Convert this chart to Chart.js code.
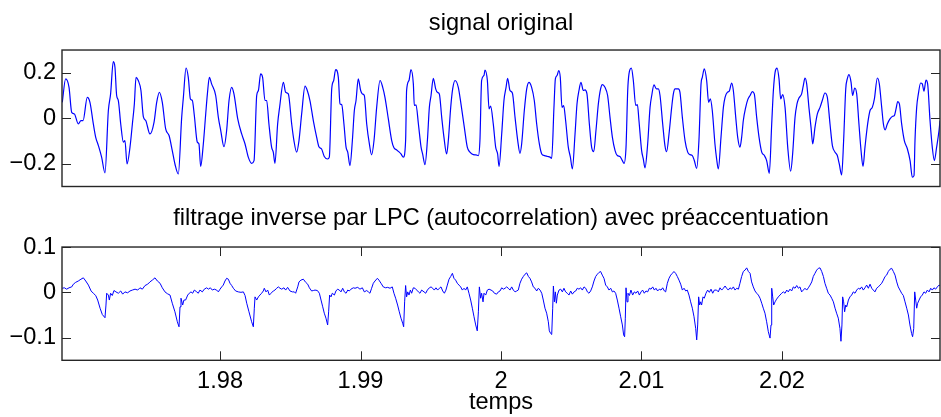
<!DOCTYPE html>
<html>
<head>
<meta charset="utf-8">
<script src="https://cdn.jsdelivr.net/npm/chart.js@4.4.0/dist/chart.umd.min.js"></script>
<style>
  html, body { margin: 0; padding: 0; background: #ffffff; }
  #wrap { position: relative; width: 941px; height: 417px; overflow: hidden; }
  canvas { position: absolute; left: 0; }
</style>
</head>
<body>
<div id="wrap">
  <canvas id="topChart" width="941" height="200" style="top:0px"></canvas>
  <canvas id="botChart" width="941" height="217" style="top:200px"></canvas>
</div>
<script>

// ---------------- Axis ranges and labels ----------------------------------
const X_MIN = 1.96875 ;
const X_MAX = 2.03125 ;
const TOP_Y_MIN = -0.3 ;
const TOP_Y_MAX =  0.3 ;
const BOT_Y_MIN = -0.15 ;
const BOT_Y_MAX =  0.1 ;

const xTickValues    = [ 1.98, 1.99, 2, 2.01, 2.02 ] ;
const xTickLabels    = [ '1.98', '1.99', '2', '2.01', '2.02' ] ;
const topYTickValues = [ -0.2, 0, 0.2 ] ;
const topYTickLabels = [ '\u22120.2', '0', '0.2' ] ;
const botYTickValues = [ -0.1, 0, 0.1 ] ;
const botYTickLabels = [ '\u22120.1', '0', '0.1' ] ;

const topTitle = 'signal original' ;
const botTitle = 'filtrage inverse par LPC (autocorrelation) avec préaccentuation' ;
const xTitle   = 'temps' ;

// ---------------- Signals, [ time (s), amplitude ] ------------------------
const originalSignal = [
  [1.96877, 0.070], [1.96901, 0.173], [1.96925, 0.136], [1.96944, 0.026], [1.96963, 0.019],
  [1.96991,-0.025], [1.97010,-0.010], [1.97025,-0.010], [1.97055, 0.092], [1.97074, 0.070],
  [1.97098,-0.025], [1.97115,-0.084], [1.97134,-0.120], [1.97157,-0.171], [1.97181,-0.240],
  [1.97205, 0.034], [1.97221, 0.107], [1.97240, 0.249], [1.97252, 0.224], [1.97264, 0.100],
  [1.97276, 0.078], [1.97293,-0.025], [1.97312,-0.105], [1.97323,-0.098], [1.97338,-0.201],
  [1.97359,-0.127], [1.97376,-0.025], [1.97390, 0.063], [1.97402, 0.180], [1.97418, 0.166],
  [1.97437, 0.122], [1.97454, 0.007], [1.97471,-0.010], [1.97501,-0.069], [1.97530,-0.018],
  [1.97549, 0.070], [1.97568, 0.114], [1.97589, 0.070], [1.97613,-0.047], [1.97637,-0.076],
  [1.97660,-0.142], [1.97679,-0.201], [1.97703,-0.245], [1.97727, 0.004], [1.97739, 0.092],
  [1.97758, 0.221], [1.97774, 0.180], [1.97789, 0.085], [1.97803, 0.078], [1.97817, 0.012],
  [1.97838,-0.105], [1.97850,-0.113], [1.97862,-0.212], [1.97881,-0.113], [1.97898, 0.019],
  [1.97910, 0.107], [1.97924, 0.180], [1.97940, 0.151], [1.97969, 0.100], [1.97988, 0.004],
  [1.98005,-0.054], [1.98028,-0.125], [1.98047,-0.054], [1.98064, 0.078], [1.98083, 0.136],
  [1.98099, 0.107], [1.98126,-0.003], [1.98154,-0.069], [1.98178,-0.113], [1.98201,-0.171],
  [1.98225,-0.198], [1.98242,-0.186], [1.98261, 0.100], [1.98273, 0.122], [1.98289, 0.195],
  [1.98303, 0.180], [1.98320, 0.078], [1.98332, 0.078], [1.98348,-0.025], [1.98367,-0.127],
  [1.98379,-0.149], [1.98391,-0.198], [1.98410,-0.025], [1.98424, 0.048], [1.98451, 0.158],
  [1.98467, 0.114], [1.98486, 0.107], [1.98510,-0.025], [1.98526,-0.098], [1.98545,-0.149],
  [1.98562,-0.098], [1.98581, 0.019], [1.98605, 0.141], [1.98621, 0.122], [1.98640, 0.078],
  [1.98664,-0.010], [1.98688,-0.084], [1.98704,-0.125], [1.98723,-0.135], [1.98742,-0.168],
  [1.98766,-0.179], [1.98778,-0.171], [1.98795, 0.129], [1.98809, 0.166], [1.98823, 0.214],
  [1.98842, 0.180], [1.98854, 0.063], [1.98866, 0.060], [1.98882,-0.025], [1.98897,-0.127],
  [1.98909,-0.149], [1.98925,-0.208], [1.98942,-0.098], [1.98956, 0.034], [1.98968, 0.078],
  [1.98984, 0.173], [1.99001, 0.122], [1.99013, 0.107], [1.99027, 0.100], [1.99044,-0.025],
  [1.99063,-0.113], [1.99079,-0.161], [1.99096,-0.098], [1.99115, 0.048], [1.99139, 0.166],
  [1.99158, 0.136], [1.99174, 0.092], [1.99198,-0.003], [1.99222,-0.098], [1.99238,-0.130],
  [1.99257,-0.139], [1.99276,-0.149], [1.99288,-0.157], [1.99305,-0.171], [1.99321,-0.098],
  [1.99328, 0.122], [1.99345, 0.166], [1.99359, 0.214], [1.99376, 0.151], [1.99383, 0.056],
  [1.99395, 0.059], [1.99412,-0.025], [1.99431,-0.127], [1.99442,-0.157], [1.99459,-0.204],
  [1.99476,-0.098], [1.99490, 0.048], [1.99502, 0.100], [1.99518, 0.176], [1.99535, 0.129],
  [1.99547, 0.114], [1.99561, 0.107], [1.99578, 0.004], [1.99594,-0.084], [1.99613,-0.157],
  [1.99625,-0.098], [1.99642, 0.048], [1.99656, 0.129], [1.99673, 0.166], [1.99696, 0.136],
  [1.99715, 0.063], [1.99739,-0.040], [1.99760,-0.127], [1.99779,-0.149], [1.99803,-0.160],
  [1.99822,-0.161], [1.99839,-0.164], [1.99850,-0.098], [1.99862, 0.166], [1.99879, 0.188],
  [1.99886, 0.212], [1.99903, 0.166], [1.99915, 0.041], [1.99926, 0.053], [1.99945,-0.025],
  [1.99962,-0.127], [1.99976,-0.157], [1.99986,-0.212], [2.00005,-0.069], [2.00021, 0.078],
  [2.00036, 0.136], [2.00047, 0.176], [2.00064, 0.122], [2.00081, 0.111], [2.00100, 0.004],
  [2.00119,-0.098], [2.00135,-0.154], [2.00147,-0.113], [2.00166, 0.034], [2.00183, 0.129],
  [2.00199, 0.158], [2.00218, 0.136], [2.00237, 0.078], [2.00254,-0.025], [2.00273,-0.113],
  [2.00290,-0.157], [2.00309,-0.164], [2.00332,-0.168], [2.00349,-0.171], [2.00361,-0.176],
  [2.00377, 0.048], [2.00387, 0.173], [2.00399, 0.188], [2.00411, 0.210], [2.00422, 0.180],
  [2.00434, 0.048], [2.00446, 0.056], [2.00460,-0.010], [2.00479,-0.127], [2.00494,-0.171],
  [2.00508,-0.223], [2.00527,-0.069], [2.00541, 0.063], [2.00555, 0.122], [2.00569, 0.158],
  [2.00586, 0.122], [2.00598, 0.125], [2.00612, 0.107], [2.00629,-0.025], [2.00645,-0.127],
  [2.00660,-0.147], [2.00676,-0.054], [2.00693, 0.063], [2.00709, 0.129], [2.00721, 0.148],
  [2.00740, 0.136], [2.00759, 0.100], [2.00776, 0.004], [2.00793,-0.084], [2.00812,-0.142],
  [2.00828,-0.164], [2.00847,-0.168], [2.00864,-0.186], [2.00876,-0.198], [2.00890,-0.127],
  [2.00902, 0.122], [2.00911, 0.195], [2.00928, 0.220], [2.00942, 0.166], [2.00959, 0.056],
  [2.00971, 0.060], [2.00982,-0.010], [2.01001,-0.142], [2.01013,-0.179], [2.01025,-0.218],
  [2.01044,-0.113], [2.01061, 0.048], [2.01073, 0.100], [2.01089, 0.147], [2.01106, 0.129],
  [2.01120, 0.129], [2.01132, 0.100], [2.01151,-0.025], [2.01167,-0.120], [2.01179,-0.147],
  [2.01196,-0.069], [2.01215, 0.048], [2.01227, 0.107], [2.01239, 0.129], [2.01262, 0.129],
  [2.01274, 0.114], [2.01291, 0.004], [2.01310,-0.098], [2.01329,-0.149], [2.01345,-0.160],
  [2.01362,-0.164], [2.01376,-0.186], [2.01393,-0.220], [2.01409,-0.098], [2.01424, 0.151],
  [2.01433, 0.180], [2.01447, 0.217], [2.01464, 0.166], [2.01478, 0.070], [2.01490, 0.085],
  [2.01504, 0.034], [2.01523,-0.113], [2.01535,-0.179], [2.01547,-0.223], [2.01566,-0.084],
  [2.01583, 0.048], [2.01595, 0.092], [2.01611, 0.114], [2.01625, 0.119], [2.01642, 0.155],
  [2.01654, 0.122], [2.01671, 0.004], [2.01685,-0.084], [2.01701,-0.127], [2.01713,-0.084],
  [2.01725,-0.010], [2.01742, 0.048], [2.01756, 0.081], [2.01773, 0.100], [2.01789, 0.117],
  [2.01803, 0.107], [2.01820, 0.004], [2.01837,-0.084], [2.01856,-0.149], [2.01875,-0.164],
  [2.01891,-0.186], [2.01910,-0.242], [2.01927,-0.025], [2.01939, 0.122], [2.01951, 0.202],
  [2.01965, 0.220], [2.01979, 0.173], [2.01991, 0.085], [2.02005, 0.104], [2.02022, 0.048],
  [2.02041,-0.127], [2.02062,-0.233], [2.02076,-0.157], [2.02093, 0.004], [2.02107, 0.063],
  [2.02121, 0.089], [2.02140, 0.107], [2.02152, 0.144], [2.02164, 0.177], [2.02176, 0.151],
  [2.02193, 0.041], [2.02207,-0.040], [2.02219,-0.113], [2.02235,-0.040], [2.02252, 0.019],
  [2.02271, 0.048], [2.02287, 0.078], [2.02306, 0.111], [2.02323, 0.092], [2.02342,-0.025],
  [2.02359,-0.120], [2.02378,-0.149], [2.02394,-0.164], [2.02408,-0.201], [2.02425,-0.249],
  [2.02439,-0.098], [2.02454, 0.129], [2.02465, 0.173], [2.02477, 0.192], [2.02492, 0.158],
  [2.02503, 0.100], [2.02518, 0.133], [2.02532, 0.107], [2.02548,-0.025], [2.02563,-0.142],
  [2.02577,-0.212], [2.02591,-0.127], [2.02610,-0.025], [2.02627, 0.034], [2.02643, 0.048],
  [2.02658, 0.085], [2.02679, 0.177], [2.02693, 0.151], [2.02710, 0.048], [2.02722,-0.025],
  [2.02734,-0.051], [2.02750,-0.025], [2.02769,-0.003], [2.02788, 0.009], [2.02800, 0.012],
  [2.02812, 0.041], [2.02824, 0.073], [2.02836, 0.063], [2.02852,-0.025], [2.02871,-0.098],
  [2.02893,-0.135], [2.02912,-0.186], [2.02928,-0.259], [2.02940,-0.252], [2.02947,-0.098],
  [2.02959, 0.048], [2.02971, 0.107], [2.02987, 0.155], [2.02999, 0.151], [2.03011, 0.119],
  [2.03025, 0.168], [2.03037, 0.151], [2.03054,-0.010], [2.03070,-0.127], [2.03085,-0.186],
  [2.03101,-0.127], [2.03118,-0.054], [2.03125,-0.010]
] ;

const residualSignal = [
  [1.96877, 0.009], [1.96892, 0.010], [1.96908, 0.007], [1.96925, 0.010], [1.96944, 0.012],
  [1.96956, 0.018], [1.96972, 0.022], [1.96991, 0.025], [1.97010, 0.029], [1.97027, 0.032],
  [1.97044, 0.025], [1.97063, 0.016], [1.97082, 0.003], [1.97098,-0.002], [1.97115,-0.007],
  [1.97129,-0.017], [1.97146,-0.035], [1.97162,-0.049], [1.97181,-0.056], [1.97188,-0.028],
  [1.97193,-0.002], [1.97205,-0.006], [1.97212,-0.017], [1.97221,-0.002], [1.97233,-0.007],
  [1.97245, 0.004], [1.97259, 0.001], [1.97276,-0.002], [1.97293, 0.003], [1.97307,-0.004],
  [1.97323, 0.001], [1.97342,-0.001], [1.97359, 0.003], [1.97376, 0.005], [1.97395, 0.007],
  [1.97414, 0.005], [1.97430, 0.010], [1.97447, 0.007], [1.97466, 0.015], [1.97485, 0.018],
  [1.97501, 0.023], [1.97518, 0.027], [1.97537, 0.032], [1.97554, 0.025], [1.97573, 0.020],
  [1.97589, 0.010], [1.97608, 0.001], [1.97625,-0.003], [1.97644,-0.006], [1.97660,-0.024],
  [1.97679,-0.043], [1.97696,-0.065], [1.97708,-0.076], [1.97715,-0.032], [1.97722,-0.013],
  [1.97734,-0.028], [1.97743,-0.017], [1.97755,-0.017], [1.97770,-0.006], [1.97781,-0.002],
  [1.97793, 0.001], [1.97805,-0.002], [1.97817, 0.005], [1.97834, 0.001], [1.97845,-0.002],
  [1.97857, 0.005], [1.97874, 0.001], [1.97888, 0.007], [1.97905, 0.010], [1.97917, 0.007],
  [1.97931, 0.010], [1.97945, 0.005], [1.97959, 0.007], [1.97976, 0.005], [1.97988, 0.001],
  [1.98000, 0.007], [1.98012, 0.012], [1.98023, 0.016], [1.98035, 0.025], [1.98047, 0.031],
  [1.98059, 0.029], [1.98071, 0.020], [1.98083, 0.015], [1.98095, 0.009], [1.98111, 0.003],
  [1.98130, 0.001], [1.98149, 0.000], [1.98166, 0.001], [1.98178,-0.007], [1.98190,-0.024],
  [1.98206,-0.043], [1.98225,-0.065], [1.98237,-0.076], [1.98244,-0.035], [1.98249,-0.010],
  [1.98261,-0.017], [1.98273,-0.010], [1.98284,-0.006], [1.98296,-0.002], [1.98308, 0.003],
  [1.98315, 0.009], [1.98327, 0.001], [1.98339, 0.005], [1.98351,-0.006], [1.98363,-0.002],
  [1.98379, 0.003], [1.98391, 0.005], [1.98403, 0.009], [1.98415, 0.012], [1.98427, 0.009],
  [1.98439, 0.007], [1.98455, 0.010], [1.98467, 0.005], [1.98481, 0.011], [1.98498, 0.003],
  [1.98515, 0.001], [1.98529, 0.001], [1.98538,-0.002], [1.98553, 0.012], [1.98562, 0.023],
  [1.98576, 0.027], [1.98593, 0.029], [1.98610, 0.022], [1.98624, 0.018], [1.98636, 0.010],
  [1.98652, 0.003], [1.98664, 0.004], [1.98676, 0.005], [1.98693, 0.004], [1.98707,-0.002],
  [1.98719,-0.017], [1.98731,-0.032], [1.98742,-0.046], [1.98754,-0.057], [1.98766,-0.072],
  [1.98773,-0.043], [1.98780,-0.006], [1.98790,-0.010], [1.98799,-0.002], [1.98814,-0.006],
  [1.98825, 0.003], [1.98837, 0.007], [1.98849, 0.005], [1.98861, 0.001], [1.98873, 0.009],
  [1.98885, 0.001], [1.98897,-0.002], [1.98909, 0.005], [1.98920, 0.003], [1.98932, 0.007],
  [1.98949, 0.010], [1.98961, 0.009], [1.98980, 0.011], [1.98996, 0.007], [1.99013, 0.010],
  [1.99027, 0.001], [1.99044, 0.004], [1.99056, 0.001], [1.99067,-0.002], [1.99079, 0.009],
  [1.99091, 0.020], [1.99103, 0.025], [1.99120, 0.031], [1.99131, 0.027], [1.99146, 0.020],
  [1.99162, 0.012], [1.99179, 0.010], [1.99193, 0.011], [1.99210, 0.009], [1.99226, 0.012],
  [1.99238,-0.002], [1.99250,-0.013], [1.99264,-0.028], [1.99276,-0.043], [1.99288,-0.057],
  [1.99300,-0.068], [1.99307,-0.076], [1.99314,-0.021], [1.99321, 0.015], [1.99328,-0.010],
  [1.99336, 0.001], [1.99345,-0.006], [1.99355, 0.005], [1.99364,-0.002], [1.99376, 0.010],
  [1.99388, 0.009], [1.99400, 0.005], [1.99412, 0.001], [1.99423,-0.002], [1.99435, 0.005],
  [1.99452, 0.001], [1.99464,-0.002], [1.99476, 0.005], [1.99490, 0.010], [1.99502, 0.012],
  [1.99514, 0.009], [1.99525, 0.005], [1.99537, 0.010], [1.99549, 0.005], [1.99561, 0.009],
  [1.99573, 0.012], [1.99585, 0.003], [1.99597,-0.002], [1.99608, 0.005], [1.99618, 0.016],
  [1.99630, 0.029], [1.99642, 0.035], [1.99654, 0.042], [1.99665, 0.031], [1.99677, 0.027],
  [1.99689, 0.020], [1.99701, 0.016], [1.99713, 0.012], [1.99725, 0.005], [1.99737, 0.009],
  [1.99748, 0.005], [1.99760, 0.012], [1.99772,-0.002], [1.99784,-0.017], [1.99796,-0.035],
  [1.99808,-0.054], [1.99820,-0.072], [1.99831,-0.085], [1.99839,-0.043], [1.99846, 0.012],
  [1.99855,-0.013], [1.99862,-0.002], [1.99872,-0.021], [1.99879,-0.002], [1.99891,-0.006],
  [1.99903, 0.005], [1.99915, 0.007], [1.99929, 0.005], [1.99941, 0.003], [1.99953,-0.002],
  [1.99969,-0.004], [1.99981, 0.001], [1.99993, 0.003], [2.00005, 0.010], [2.00017, 0.007],
  [2.00029, 0.009], [2.00040, 0.012], [2.00052, 0.009], [2.00064, 0.005], [2.00076, 0.012],
  [2.00088, 0.005], [2.00100, 0.001], [2.00112, 0.003], [2.00123, 0.005], [2.00135, 0.020],
  [2.00147, 0.029], [2.00159, 0.035], [2.00171, 0.040], [2.00183, 0.043], [2.00195, 0.035],
  [2.00206, 0.031], [2.00218, 0.023], [2.00230, 0.012], [2.00242, 0.009], [2.00254, 0.003],
  [2.00266, 0.009], [2.00278, 0.005], [2.00290,-0.002], [2.00301,-0.017], [2.00313,-0.035],
  [2.00325,-0.046], [2.00337,-0.065], [2.00344,-0.085], [2.00354,-0.091], [2.00361,-0.093],
  [2.00368,-0.035], [2.00373, 0.014], [2.00380,-0.021], [2.00387, 0.001], [2.00394,-0.024],
  [2.00401,-0.006], [2.00413, 0.005], [2.00425, 0.007], [2.00437, 0.001], [2.00448, 0.009],
  [2.00460, 0.001], [2.00472,-0.002], [2.00484,-0.006], [2.00496, 0.003], [2.00508,-0.004],
  [2.00520, 0.001], [2.00532, 0.003], [2.00543, 0.009], [2.00555, 0.007], [2.00567, 0.010],
  [2.00579, 0.005], [2.00591, 0.012], [2.00603, 0.009], [2.00615, 0.001], [2.00626,-0.002],
  [2.00638, 0.003], [2.00650, 0.012], [2.00662, 0.025], [2.00674, 0.035], [2.00686, 0.040],
  [2.00698, 0.044], [2.00709, 0.046], [2.00721, 0.038], [2.00733, 0.031], [2.00745, 0.016],
  [2.00757, 0.012], [2.00769, 0.005], [2.00781, 0.009], [2.00793, 0.001], [2.00804, 0.003],
  [2.00816,-0.002], [2.00828,-0.017], [2.00840,-0.035], [2.00852,-0.054], [2.00864,-0.072],
  [2.00873,-0.094], [2.00880,-0.098], [2.00885,-0.057], [2.00890, 0.010], [2.00897,-0.021],
  [2.00904,-0.002], [2.00914,-0.007], [2.00925, 0.005], [2.00937,-0.006], [2.00949, 0.001],
  [2.00961,-0.002], [2.00973, 0.003], [2.00985,-0.006], [2.00997, 0.001], [2.01008, 0.005],
  [2.01020,-0.002], [2.01032, 0.003], [2.01044, 0.001], [2.01056, 0.009], [2.01068, 0.007],
  [2.01080, 0.012], [2.01092, 0.005], [2.01103, 0.009], [2.01115, 0.003], [2.01127, 0.007],
  [2.01139, 0.005], [2.01151, 0.010], [2.01163, 0.003], [2.01172, 0.001], [2.01184, 0.020],
  [2.01196, 0.031], [2.01208, 0.038], [2.01220, 0.042], [2.01231, 0.046], [2.01243, 0.042],
  [2.01255, 0.035], [2.01267, 0.027], [2.01279, 0.018], [2.01291, 0.005], [2.01303, 0.009],
  [2.01315, 0.003], [2.01326, 0.005], [2.01338,-0.006], [2.01350,-0.021], [2.01362,-0.035],
  [2.01374,-0.054], [2.01386,-0.080], [2.01393,-0.105], [2.01400,-0.072], [2.01407,-0.010],
  [2.01414,-0.028], [2.01421,-0.021], [2.01428,-0.028], [2.01438,-0.010], [2.01447,-0.013],
  [2.01459,-0.002], [2.01471, 0.005], [2.01483, 0.000], [2.01495, 0.007], [2.01507,-0.002],
  [2.01519, 0.005], [2.01535, 0.005], [2.01547, 0.001], [2.01559, 0.010], [2.01571, 0.005],
  [2.01583, 0.009], [2.01595, 0.014], [2.01606, 0.009], [2.01618, 0.005], [2.01630, 0.010],
  [2.01642, 0.007], [2.01654, 0.012], [2.01666, 0.005], [2.01678, 0.009], [2.01690, 0.007],
  [2.01701, 0.020], [2.01713, 0.035], [2.01725, 0.046], [2.01737, 0.049], [2.01749, 0.054],
  [2.01761, 0.046], [2.01773, 0.042], [2.01784, 0.023], [2.01796, 0.012], [2.01808, 0.003],
  [2.01820,-0.002], [2.01832,-0.006], [2.01844,-0.013], [2.01856,-0.024], [2.01867,-0.035],
  [2.01879,-0.046], [2.01891,-0.065], [2.01903,-0.087], [2.01915,-0.101], [2.01922,-0.072],
  [2.01927, 0.009], [2.01934,-0.010], [2.01941,-0.028], [2.01951,-0.021], [2.01962,-0.015],
  [2.01974,-0.010], [2.01986,-0.006], [2.01998,-0.002], [2.02010, 0.001], [2.02022,-0.002],
  [2.02034, 0.005], [2.02045, 0.001], [2.02057, 0.007], [2.02069, 0.003], [2.02081, 0.012],
  [2.02093, 0.009], [2.02105, 0.015], [2.02117, 0.009], [2.02128, 0.012], [2.02140, 0.001],
  [2.02152, 0.005], [2.02164, 0.009], [2.02176, 0.005], [2.02188, 0.010], [2.02200, 0.016],
  [2.02212, 0.023], [2.02223, 0.035], [2.02235, 0.042], [2.02247, 0.049], [2.02259, 0.053],
  [2.02271, 0.054], [2.02283, 0.046], [2.02295, 0.035], [2.02306, 0.020], [2.02318, 0.009],
  [2.02330,-0.002], [2.02342,-0.006], [2.02354,-0.013], [2.02366,-0.021], [2.02378,-0.035],
  [2.02389,-0.046], [2.02401,-0.057], [2.02413,-0.080], [2.02420,-0.108], [2.02427,-0.072],
  [2.02432,-0.010], [2.02439,-0.021], [2.02446,-0.043], [2.02454,-0.028], [2.02461,-0.032],
  [2.02473,-0.017], [2.02484,-0.010], [2.02496,-0.006], [2.02508, 0.001], [2.02520,-0.002],
  [2.02532, 0.005], [2.02544, 0.009], [2.02556, 0.007], [2.02567, 0.012], [2.02579, 0.005],
  [2.02591, 0.010], [2.02603, 0.016], [2.02615, 0.009], [2.02627, 0.018], [2.02639, 0.009],
  [2.02650, 0.005], [2.02662, 0.001], [2.02674, 0.009], [2.02686, 0.012], [2.02698, 0.016],
  [2.02710, 0.020], [2.02722, 0.027], [2.02734, 0.035], [2.02745, 0.038], [2.02757, 0.046],
  [2.02769, 0.051], [2.02781, 0.053], [2.02793, 0.046], [2.02805, 0.038], [2.02817, 0.023],
  [2.02828, 0.012], [2.02840, 0.005], [2.02852,-0.002], [2.02864,-0.007], [2.02876,-0.021],
  [2.02888,-0.035], [2.02900,-0.050], [2.02911,-0.072], [2.02923,-0.091], [2.02930,-0.098],
  [2.02938,-0.080], [2.02945, 0.001], [2.02952,-0.017], [2.02959,-0.035], [2.02966,-0.024],
  [2.02976,-0.017], [2.02987,-0.010], [2.02999,-0.006], [2.03011, 0.001], [2.03023,-0.002],
  [2.03035, 0.005], [2.03047, 0.001], [2.03059, 0.009], [2.03070, 0.005], [2.03082, 0.010],
  [2.03094, 0.007], [2.03106, 0.012], [2.03118, 0.016], [2.03125, 0.015]
] ;

// ---------------- Style ---------------------------------------------------
const FONT_FAMILY = '"Liberation Sans", Arial, Helvetica, sans-serif' ;
const FONT_SIZE   = 23.6 ;
const LINE_COLOR  = '#0000ff' ;
const AXIS_COLOR  = '#262626' ;
const TICK_LEN    = 9 ;

const textFont = { family: FONT_FAMILY, size: FONT_SIZE, weight: 'normal', lineHeight: 1.2 } ;

// Matlab style box with inward ticks
const framePlugin = {
    id: 'frame',
    afterDatasetsDraw( chart, args, opts ) {
        const ctx = chart.ctx ;
        const a   = chart.chartArea ;
        const xs  = chart.scales.x ;
        const ys  = chart.scales.y ;

        ctx.save() ;
        ctx.strokeStyle = AXIS_COLOR ;
        ctx.lineWidth = 1 ;
        ctx.beginPath() ;
        ys.ticks.forEach( function( t ) {
            const py = Math.round( ys.getPixelForValue( t.value ) ) + 0.5 ;
            ctx.moveTo( a.left, py ) ;  ctx.lineTo( a.left + TICK_LEN, py ) ;
            ctx.moveTo( a.right, py ) ; ctx.lineTo( a.right - TICK_LEN, py ) ;
        } ) ;
        if( opts.xTicks ) {
            xs.ticks.forEach( function( t ) {
                const px = Math.round( xs.getPixelForValue( t.value ) ) + 0.5 ;
                ctx.moveTo( px, a.top ) ;    ctx.lineTo( px, a.top + TICK_LEN ) ;
                ctx.moveTo( px, a.bottom ) ; ctx.lineTo( px, a.bottom - TICK_LEN ) ;
            } ) ;
        }
        ctx.stroke() ;
        ctx.lineWidth = 1.4 ;
        ctx.strokeRect( a.left, a.top, a.right - a.left, a.bottom - a.top ) ;
        ctx.restore() ;
    }
} ;

function makeChart( canvasId, signal, cfg ) {

    const xScale = {
        type : 'linear',
        min  : X_MIN,
        max  : X_MAX,
        display : cfg.showX,
        afterBuildTicks : function( s ) {
            s.ticks = xTickValues.map( v => ( { value: v } ) ) ;
        },
        afterFit : function( s ) {
            if( cfg.showX ) { s.height = cfg.xAxisHeight ; }
            s.paddingLeft = 0 ;
            s.paddingRight = 0 ;
        },
        grid   : { display: false, drawTicks: false },
        border : { display: false },
        ticks  : {
            autoSkip    : false,
            maxRotation : 0,
            padding     : 7,
            color       : '#000',
            font        : textFont,
            callback    : ( v, i ) => xTickLabels[i]
        },
        title : {
            display : cfg.showX,
            text    : xTitle,
            color   : '#000',
            font    : textFont,
            padding : { top: 0, bottom: 0 }
        }
    } ;

    const yScale = {
        type : 'linear',
        min  : cfg.yMin,
        max  : cfg.yMax,
        afterBuildTicks : function( s ) {
            s.ticks = cfg.yTicks.map( v => ( { value: v } ) ) ;
        },
        afterFit : function( s ) {
            s.width = 62 ;
            s.paddingTop = 0 ;
            s.paddingBottom = 0 ;
        },
        grid   : { display: false, drawTicks: false },
        border : { display: false },
        ticks  : {
            padding  : 6,
            color    : '#000',
            font     : textFont,
            callback : ( v, i ) => cfg.yLabels[i]
        }
    } ;

    return new Chart( document.getElementById( canvasId ), {
        type : 'line',
        data : {
            datasets : [ {
                data        : signal.map( p => ( { x: p[0], y: p[1] } ) ),
                borderColor : LINE_COLOR,
                borderWidth : cfg.lineWidth,
                pointRadius : 0,
                tension     : cfg.smooth ? 0.4 : 0,
                cubicInterpolationMode : cfg.smooth ? 'monotone' : 'default',
                fill        : false
            } ]
        },
        options : {
            responsive       : false,
            animation        : false,
            devicePixelRatio : 1,
            parsing          : false,
            events           : [],
            layout : { padding: { left: 0, right: 1, top: 0, bottom: cfg.padBottom } },
            plugins : {
                legend  : { display: false },
                tooltip : { enabled: false },
                title   : {
                    display  : true,
                    fullSize : false,
                    text     : cfg.title,
                    color    : '#000',
                    font     : textFont,
                    padding  : { top: cfg.titleTop, bottom: cfg.titleBottom }
                },
                frame : { xTicks: cfg.showX }
            },
            scales : { x: xScale, y: yScale }
        },
        plugins : [ framePlugin ]
    } ) ;
}

makeChart( 'topChart', originalSignal, {
    title : topTitle, titleTop : 9.2, titleBottom : 12.5,
    yMin : TOP_Y_MIN, yMax : TOP_Y_MAX,
    yTicks : topYTickValues, yLabels : topYTickLabels,
    showX : false, padBottom : 13.5, lineWidth : 1.2, smooth : true
} ) ;

makeChart( 'botChart', residualSignal, {
    title : botTitle, titleTop : 4, titleBottom : 14.7,
    yMin : BOT_Y_MIN, yMax : BOT_Y_MAX,
    yTicks : botYTickValues, yLabels : botYTickLabels,
    showX : true, xAxisHeight : 56.7, padBottom : 0, lineWidth : 1, smooth : false
} ) ;

</script>
</body>
</html>
